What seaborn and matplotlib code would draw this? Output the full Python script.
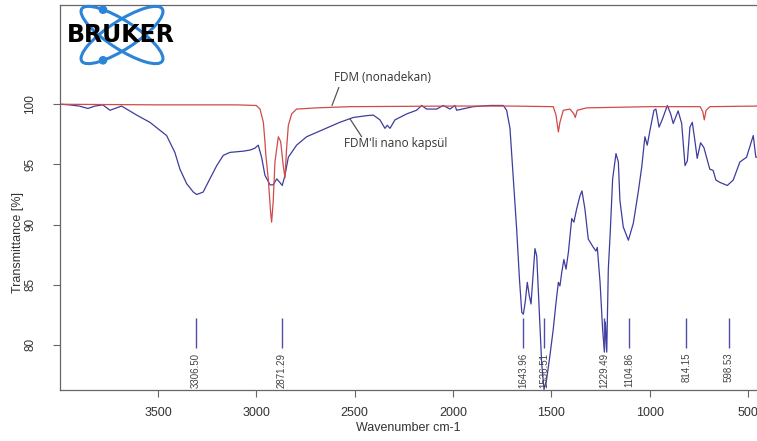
import numpy as np
import pandas as pd
import matplotlib
matplotlib.use("Agg")
import matplotlib.pyplot as plt
import seaborn as sns
from matplotlib.patches import Ellipse, Circle

# ---------------- data ----------------
blue_wn = [3998, 3950, 3900, 3856, 3820, 3780, 3744, 3710, 3685, 3659,
           3608, 3541, 3456, 3414, 3388, 3354, 3320, 3303, 3270, 3236,
           3201, 3168, 3134, 3100, 3066, 3030, 3007, 2990, 2973, 2956,
           2930, 2914, 2896, 2880, 2868, 2854, 2837, 2795, 2744, 2659,
           2575, 2507, 2440, 2405, 2371, 2346, 2334, 2320, 2295, 2235,
           2185, 2159, 2134, 2083, 2049, 2015, 1990, 1981, 1897, 1812,
           1744, 1727, 1710, 1701, 1693, 1676, 1662, 1650, 1642, 1633,
           1622, 1612, 1603, 1595, 1583, 1574, 1561, 1549, 1537, 1524,
           1507, 1490, 1476, 1464, 1456, 1447, 1436, 1425, 1413, 1396,
           1385, 1371, 1354, 1344, 1329, 1312, 1286, 1273, 1266, 1252,
           1239, 1230, 1225, 1218, 1210, 1201, 1188, 1171, 1159, 1151,
           1134, 1108, 1083, 1057, 1040, 1024, 1012, 995, 978, 968,
           952, 934, 910, 893, 880, 855, 837, 820, 808, 795,
           783, 770, 758, 741, 724, 694, 677, 663, 642, 605,
           575, 541, 507, 473, 460, 454]
blue_T = [100.0, 99.95, 99.85, 99.65, 99.85, 99.95, 99.5, 99.7, 99.85, 99.6,
          99.1, 98.5, 97.4, 96.0, 94.6, 93.4, 92.7, 92.5, 92.7, 93.8,
          94.9, 95.75, 96.0, 96.05, 96.1, 96.2, 96.35, 96.6, 95.6, 94.1,
          93.3, 93.3, 93.8, 93.5, 93.25, 94.1, 95.6, 96.6, 97.3, 97.9,
          98.5, 98.9, 99.05, 99.1, 98.7, 98.0, 98.25, 98.0, 98.7, 99.2,
          99.5, 99.9, 99.6, 99.6, 99.9, 99.6, 99.9, 99.5, 99.8, 99.9,
          99.9, 99.5, 98.0, 95.75, 93.8, 89.6, 85.5, 82.7, 82.55, 83.5,
          85.2, 84.1, 83.4, 85.2, 88.0, 87.4, 82.7, 78.5, 76.3, 77.1,
          79.1, 81.3, 83.5, 85.2, 84.9, 86.0, 87.1, 86.3, 87.7, 90.5,
          90.2, 91.3, 92.4, 92.8, 91.3, 88.8, 88.1, 87.8, 88.1, 85.2,
          81.3, 79.4, 81.9, 79.4, 86.3, 89.1, 93.8, 95.9, 95.2, 92.0,
          89.8, 88.7, 90.1, 92.8, 94.8, 97.3, 96.6, 98.1, 99.5, 99.6,
          98.1, 98.8, 99.9, 99.2, 98.4, 99.45, 98.4, 94.9, 95.3, 98.1,
          98.5, 97.0, 95.5, 96.8, 96.4, 94.6, 94.5, 93.7, 93.5, 93.25,
          93.7, 95.2, 95.6, 97.4, 95.6, 95.6]

red_wn = [3998, 3500, 3100, 3000, 2981, 2964, 2956, 2951, 2939, 2927,
          2922, 2914, 2905, 2888, 2876, 2863, 2854, 2846, 2837, 2820,
          2795, 2693, 2524, 2000, 1700, 1490, 1476, 1464, 1456, 1439,
          1405, 1385, 1378, 1368, 1320, 1000, 743, 730, 722, 713,
          693, 454]
red_T = [100.0, 99.95, 99.95, 99.9, 99.6, 98.5, 96.9, 95.7, 93.8, 91.0,
         90.2, 91.9, 95.2, 97.3, 96.9, 94.9, 93.9, 96.3, 98.25, 99.2,
         99.6, 99.7, 99.8, 99.85, 99.85, 99.8, 99.1, 97.7, 98.5, 99.5,
         99.6, 99.2, 98.9, 99.5, 99.7, 99.8, 99.8, 99.4, 98.7, 99.5,
         99.8, 99.85]

peak_wn = [3306.50, 2871.29, 1643.96, 1536.51, 1229.49, 1104.86, 814.15, 598.53]

x_ticks = [3500, 3000, 2500, 2000, 1500, 1000, 500]
y_ticks = [80, 85, 90, 95, 100]

label_red = "FDM (nonadekan)"
label_blue = "FDM'li nano kapsül"

# ---------------- style ----------------
BLUE = "#3d3d9e"
RED = "#d2494a"
PEAK = "#4e4ea6"
SPINE = "#666666"
TXT = "#333333"

sns.set_style("white")
plt.rcParams['font.family'] = ['Liberation Sans', 'DejaVu Sans']

W, H = 757, 441
fig = plt.figure(figsize=(W / 100, H / 100), dpi=100)
ax = fig.add_axes([60 / W, 1 - 390 / H, 1 - 60 / W, 385 / H])

blue_df = pd.DataFrame({"wn": blue_wn, "T": blue_T})
red_df = pd.DataFrame({"wn": red_wn, "T": red_T})
sns.lineplot(data=blue_df, x="wn", y="T", sort=False, estimator=None,
             color=BLUE, linewidth=0.9, ax=ax)
sns.lineplot(data=red_df, x="wn", y="T", sort=False, estimator=None,
             color=RED, linewidth=0.9, ax=ax)

ax.set_xlim(3998, 454)
ax.set_ylim(76.25, 108.25)
ax.set_xticks(x_ticks)
ax.set_yticks(y_ticks)
ax.set_xticklabels([str(v) for v in x_ticks])
ax.set_yticklabels([str(v) for v in y_ticks])

ax.tick_params(axis='x', direction='out', length=5, width=0.8, color=SPINE,
               pad=7, labelsize=9, labelcolor=TXT, bottom=True)
ax.tick_params(axis='y', direction='out', length=5, width=0.8, color=SPINE,
               pad=12, labelsize=8.5, labelcolor=TXT, left=True)
for lbl in ax.get_yticklabels():
    lbl.set_rotation(90)
    lbl.set_va('center')

for s in ['left', 'top', 'bottom']:
    ax.spines[s].set_color(SPINE)
    ax.spines[s].set_linewidth(0.9)
    ax.spines[s].set_visible(True)
ax.spines['right'].set_visible(False)
ax.grid(False)

ax.set_xlabel("Wavenumber cm-1", fontsize=9, color=TXT)
ax.set_ylabel("Transmittance [%]", fontsize=9, color=TXT)
ax.xaxis.set_label_coords(0.5, -0.082)
ax.yaxis.set_label_coords(-0.051, 0.382)

# peak markers
ax.vlines(peak_wn, 79.7, 82.2, color=PEAK, linewidth=1.0)
for p in peak_wn:
    ax.text(p, 79.35, f"{p:.2f}", rotation=90, ha='center', va='top',
            fontsize=7, color='#444444')

# curve labels with leader lines
ax.plot([2580, 2615], [101.4, 99.9], color='#555555', linewidth=0.9)
ax.text(2356, 102.25, label_red, ha='center', va='center', fontsize=8.5,
        family=['Open Sans', 'DejaVu Sans'], color=TXT)
ax.plot([2524, 2464], [98.8, 97.3], color='#555555', linewidth=0.9)
ax.text(2290, 96.75, label_blue, ha='center', va='center', fontsize=8.5,
        family=['Open Sans', 'DejaVu Sans'], color=TXT)

# logo overlay (pixel coordinates)
lax = fig.add_axes([0, 0, 1, 1], zorder=5)
lax.set_xlim(0, W)
lax.set_ylim(H, 0)
lax.axis('off')
lax.patch.set_alpha(0)
LOGO = "#2b84d8"
for ang in (33, -33):
    lax.add_patch(Ellipse((122, 35), 96, 28, angle=ang, fill=False,
                          edgecolor=LOGO, linewidth=2.2))
lax.add_patch(Circle((103, 9.7), 3.6, color=LOGO))
lax.add_patch(Circle((103, 60.3), 3.6, color=LOGO))
lax.text(120.5, 35.5, "BRUKER", ha='center', va='center', fontsize=17,
         fontweight='bold', family=['DejaVu Sans'], color='black')

fig.savefig("out.png", dpi=100)
